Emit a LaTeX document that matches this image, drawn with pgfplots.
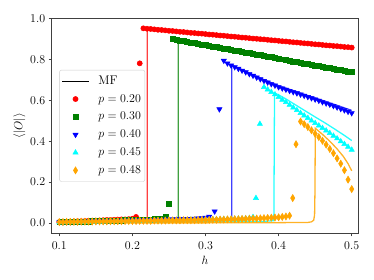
\documentclass[border=0pt]{standalone}
\usepackage{pgfplots}
\pgfplotsset{compat=1.18}
\definecolor{mgreen}{HTML}{008000}
\definecolor{morange}{HTML}{FFA500}
\definecolor{mcyan}{HTML}{00FFFF}
\newcommand\lf{\fontsize{12.6}{15}\selectfont}
\newcommand\tf{\fontsize{12.3}{14}\selectfont}
\begin{document}
\begin{tikzpicture}
\begin{axis}[
  scale only axis, width=306.6bp, height=215bp,
  xmin=0.0896, xmax=0.509, ymin=-0.05, ymax=1.0,
  xtick={0.1,0.2,0.3,0.4,0.5}, ytick={0,0.2,0.4,0.6,0.8,1.0},
  ticklabel style={font=\tf, /pgf/number format/fixed, /pgf/number format/fixed zerofill, /pgf/number format/precision=1},
  xticklabel style={yshift=-1.5pt},
  tick align=outside, tick pos=left,
  major tick length=3pt,
  axis line style={black!75, line width=0.8pt},
  tick style={black!75, line width=0.8pt},
  label style={font=\tf},
  xlabel={$h$}, ylabel={$\langle|O|\rangle$},
  xlabel style={yshift=0pt}, ylabel style={yshift=-2pt},
  legend cell align=left,
  legend style={at={(0.025,0.5)}, anchor=west, draw=black!20, rounded corners=2pt,
    fill=white, fill opacity=0.8, text opacity=1, font=\lf,
    inner xsep=2pt, inner ysep=3.7pt, row sep=2.9pt,
    nodes={inner sep=2pt, text height=8.5pt, text depth=2.5pt},
    /tikz/every odd column/.append style={column sep=7pt}},
  legend image code/.code={\draw[mark repeat=2,mark phase=2,#1,/tikz/fill opacity=1,/tikz/draw opacity=1] plot coordinates {(0cm,0cm) (0.47cm,0cm) (0.94cm,0cm)};},
]
% legend entry for MF
\addlegendimage{black, line width=1.3pt}
\addlegendentry{\lf MF}

% ---- MF lines ----
\addplot[forget plot, red, opacity=0.75, line width=1.3pt] coordinates {
(0.10,0.004)(0.15,0.008)(0.20,0.014)(0.2204,0.017)(0.2204,0.95)(0.30,0.922)(0.40,0.889)(0.50,0.857)};
\addplot[forget plot, mgreen, opacity=0.75, line width=1.3pt] coordinates {
(0.10,0.004)(0.15,0.007)(0.20,0.011)(0.2628,0.018)(0.2628,0.888)(0.30,0.866)(0.40,0.801)(0.50,0.737)};
\addplot[forget plot, blue, opacity=0.75, line width=1.3pt] coordinates {
(0.10,0.003)(0.20,0.009)(0.30,0.016)(0.3358,0.02)(0.3358,0.772)(0.35,0.749)(0.375,0.708)(0.40,0.671)(0.425,0.641)(0.45,0.611)(0.475,0.581)(0.50,0.55)};
\addplot[forget plot, mcyan, opacity=0.85, line width=1.3pt] coordinates {
(0.10,0.002)(0.20,0.004)(0.30,0.006)(0.38,0.008)(0.3935,0.012)(0.3944,0.635)(0.40,0.626)(0.41,0.606)(0.42,0.584)(0.43,0.562)(0.44,0.540)(0.45,0.518)(0.464,0.488)(0.475,0.463)(0.49,0.428)(0.50,0.403)};
\addplot[forget plot, morange, opacity=0.85, line width=1.3pt] coordinates {
(0.10,0.000)(0.20,0.001)(0.30,0.001)(0.40,0.002)(0.44,0.003)(0.445,0.006)(0.448,0.014)(0.4492,0.04)(0.4497,0.15)(0.4502,0.463)(0.46,0.433)(0.4705,0.398)(0.48,0.362)(0.4886,0.325)(0.495,0.29)(0.50,0.255)};

% ---- p = 0.20 ----
\addplot[only marks, red, mark=*, mark size=2.6pt, mark options={line width=0.5pt}] coordinates {
(0.100,0.005)(0.105,0.006)(0.110,0.006)(0.115,0.007)(0.120,0.008)(0.125,0.009)(0.130,0.009)(0.135,0.010)(0.140,0.011)(0.145,0.012)(0.150,0.012)(0.155,0.013)(0.160,0.014)(0.165,0.015)(0.170,0.015)(0.175,0.016)(0.180,0.017)(0.185,0.018)(0.190,0.018)(0.195,0.019)(0.200,0.021)(0.205,0.030)(0.210,0.780)
(0.215,0.951)(0.220,0.949)(0.225,0.948)(0.230,0.946)(0.235,0.944)(0.240,0.943)(0.245,0.941)(0.250,0.939)(0.255,0.938)(0.260,0.936)(0.265,0.934)(0.270,0.933)(0.275,0.931)(0.280,0.929)(0.285,0.928)(0.290,0.926)(0.295,0.925)(0.300,0.923)(0.305,0.921)(0.310,0.920)(0.315,0.918)(0.320,0.916)(0.325,0.915)(0.330,0.913)(0.335,0.911)(0.340,0.910)(0.345,0.908)(0.350,0.906)(0.355,0.905)(0.360,0.903)(0.365,0.901)(0.370,0.900)(0.375,0.898)(0.380,0.897)(0.385,0.895)(0.390,0.893)(0.395,0.892)(0.400,0.890)(0.405,0.888)(0.410,0.887)(0.415,0.885)(0.420,0.883)(0.425,0.882)(0.430,0.880)(0.435,0.878)(0.440,0.877)(0.445,0.875)(0.450,0.873)(0.455,0.872)(0.460,0.870)(0.465,0.868)(0.470,0.867)(0.475,0.865)(0.480,0.864)(0.485,0.862)(0.490,0.860)(0.495,0.859)(0.500,0.857)};
\addlegendentry{\lf $p=0.20$}

% ---- p = 0.30 ----
\addplot[only marks, mgreen, mark=square*, mark size=2.5pt, mark options={line width=0.5pt}] coordinates {
(0.100,0.004)(0.105,0.005)(0.110,0.005)(0.115,0.006)(0.120,0.006)(0.125,0.007)(0.130,0.007)(0.135,0.008)(0.140,0.008)(0.145,0.009)(0.150,0.010)(0.155,0.010)(0.160,0.011)(0.165,0.011)(0.170,0.012)(0.175,0.012)(0.180,0.013)(0.185,0.013)(0.190,0.014)(0.195,0.014)(0.200,0.015)(0.205,0.016)(0.210,0.016)(0.215,0.017)(0.220,0.017)(0.225,0.018)(0.230,0.019)(0.235,0.020)(0.240,0.022)(0.245,0.030)(0.250,0.094)
(0.255,0.899)(0.260,0.896)(0.265,0.892)(0.270,0.889)(0.275,0.886)(0.280,0.882)(0.285,0.879)(0.290,0.876)(0.295,0.873)(0.300,0.869)(0.305,0.866)(0.310,0.863)(0.315,0.859)(0.320,0.856)(0.325,0.853)(0.330,0.849)(0.335,0.846)(0.340,0.843)(0.345,0.840)(0.350,0.836)(0.355,0.833)(0.360,0.830)(0.365,0.826)(0.370,0.823)(0.375,0.820)(0.380,0.816)(0.385,0.813)(0.390,0.810)(0.395,0.807)(0.400,0.803)(0.405,0.800)(0.410,0.797)(0.415,0.793)(0.420,0.790)(0.425,0.787)(0.430,0.783)(0.435,0.780)(0.440,0.777)(0.445,0.774)(0.450,0.770)(0.455,0.767)(0.460,0.764)(0.465,0.760)(0.470,0.757)(0.475,0.754)(0.480,0.750)(0.485,0.747)(0.490,0.744)(0.495,0.740)(0.500,0.737)};
\addlegendentry{\lf $p=0.30$}

% ---- p = 0.40 ----
\addplot[only marks, blue, mark=triangle*, mark size=3pt, mark options={rotate=180, line width=0.5pt}] coordinates {
(0.100,0.004)(0.105,0.004)(0.110,0.005)(0.115,0.005)(0.120,0.006)(0.125,0.006)(0.130,0.007)(0.135,0.007)(0.140,0.008)(0.145,0.008)(0.150,0.009)(0.155,0.009)(0.160,0.009)(0.165,0.010)(0.170,0.010)(0.175,0.011)(0.180,0.011)(0.185,0.012)(0.190,0.012)(0.195,0.013)(0.200,0.013)(0.205,0.013)(0.210,0.014)(0.215,0.014)(0.220,0.015)(0.225,0.015)(0.230,0.016)(0.235,0.016)(0.240,0.017)(0.245,0.017)(0.250,0.018)(0.255,0.018)(0.260,0.019)(0.265,0.019)(0.270,0.020)(0.275,0.020)(0.280,0.021)(0.285,0.022)(0.290,0.023)(0.295,0.024)(0.300,0.027)(0.305,0.032)(0.3125,0.057)(0.319,0.556)
(0.325,0.793)(0.330,0.780)(0.335,0.770)(0.340,0.762)(0.345,0.754)(0.350,0.745)(0.355,0.737)(0.360,0.728)(0.365,0.720)(0.370,0.711)(0.375,0.703)(0.380,0.695)(0.385,0.687)(0.390,0.679)(0.395,0.672)(0.400,0.664)(0.405,0.658)(0.410,0.652)(0.415,0.646)(0.420,0.640)(0.425,0.634)(0.430,0.628)(0.435,0.622)(0.440,0.616)(0.445,0.610)(0.450,0.604)(0.455,0.598)(0.460,0.591)(0.465,0.585)(0.470,0.579)(0.475,0.572)(0.480,0.565)(0.485,0.558)(0.490,0.551)(0.495,0.544)(0.500,0.537)};
\addlegendentry{\lf $p=0.40$}

% ---- p = 0.45 ----
\addplot[only marks, mcyan, mark=triangle*, mark size=3pt, mark options={line width=0.5pt}] coordinates {
(0.100,0.003)(0.105,0.003)(0.110,0.004)(0.115,0.004)(0.120,0.004)(0.125,0.005)(0.130,0.005)(0.135,0.005)(0.140,0.006)(0.145,0.006)(0.150,0.007)(0.155,0.007)(0.160,0.007)(0.165,0.008)(0.170,0.008)(0.175,0.008)(0.180,0.009)(0.185,0.009)(0.190,0.009)(0.195,0.010)(0.200,0.010)(0.205,0.010)(0.210,0.011)(0.215,0.011)(0.220,0.011)(0.225,0.012)(0.230,0.012)(0.235,0.012)(0.240,0.013)(0.245,0.013)(0.250,0.014)(0.255,0.014)(0.260,0.014)(0.265,0.015)(0.270,0.015)(0.275,0.015)(0.280,0.016)(0.285,0.016)(0.290,0.016)(0.295,0.017)(0.300,0.017)(0.305,0.017)(0.310,0.018)(0.315,0.018)(0.320,0.018)(0.325,0.019)(0.330,0.019)(0.335,0.020)(0.340,0.020)(0.345,0.021)(0.350,0.021)(0.355,0.022)(0.360,0.024)(0.365,0.029)(0.369,0.122)(0.3744,0.484)
(0.380,0.664)(0.385,0.652)(0.390,0.640)(0.395,0.628)(0.400,0.615)(0.405,0.602)(0.410,0.590)(0.415,0.577)(0.420,0.564)(0.425,0.551)(0.430,0.537)(0.435,0.525)(0.440,0.513)(0.445,0.500)(0.450,0.488)(0.455,0.476)(0.460,0.464)(0.465,0.452)(0.470,0.439)(0.475,0.426)(0.480,0.413)(0.485,0.399)(0.490,0.386)(0.495,0.372)(0.500,0.358)};
\addlegendentry{\lf $p=0.45$}

% ---- p = 0.48 ----
\addplot[only marks, morange, mark=diamond*, mark size=3.6pt, mark options={xscale=0.8, line width=0.5pt}] coordinates {
(0.100,0.005)(0.105,0.005)(0.110,0.006)(0.115,0.006)(0.120,0.006)(0.125,0.006)(0.130,0.007)(0.135,0.007)(0.140,0.007)(0.145,0.007)(0.150,0.008)(0.155,0.008)(0.160,0.008)(0.165,0.008)(0.170,0.009)(0.175,0.009)(0.180,0.009)(0.185,0.009)(0.190,0.010)(0.195,0.010)(0.200,0.010)(0.205,0.010)(0.210,0.011)(0.215,0.011)(0.220,0.011)(0.225,0.011)(0.230,0.012)(0.235,0.012)(0.240,0.012)(0.245,0.012)(0.250,0.013)(0.255,0.013)(0.260,0.013)(0.265,0.013)(0.270,0.014)(0.275,0.014)(0.280,0.014)(0.285,0.014)(0.290,0.015)(0.295,0.015)(0.300,0.015)(0.305,0.015)(0.310,0.016)(0.315,0.016)(0.320,0.017)(0.325,0.017)(0.330,0.018)(0.335,0.018)(0.340,0.019)(0.345,0.019)(0.350,0.020)(0.355,0.020)(0.360,0.021)(0.365,0.022)(0.370,0.022)(0.375,0.023)(0.380,0.024)(0.385,0.025)(0.390,0.026)(0.395,0.027)(0.400,0.028)(0.405,0.030)(0.410,0.032)(0.415,0.036)(0.4193,0.122)(0.4238,0.385)
(0.430,0.496)(0.435,0.483)(0.440,0.469)(0.445,0.453)(0.450,0.436)(0.455,0.420)(0.460,0.402)(0.465,0.383)(0.470,0.362)(0.475,0.341)(0.480,0.316)(0.485,0.290)(0.490,0.258)(0.495,0.212)(0.500,0.166)};
\addlegendentry{\lf $p=0.48$}
\end{axis}
\path ([shift={(-51.7bp,-46.7bp)}]current axis.south west) rectangle ([shift={(15.7bp,18.3bp)}]current axis.north east);
\end{tikzpicture}
\end{document}
